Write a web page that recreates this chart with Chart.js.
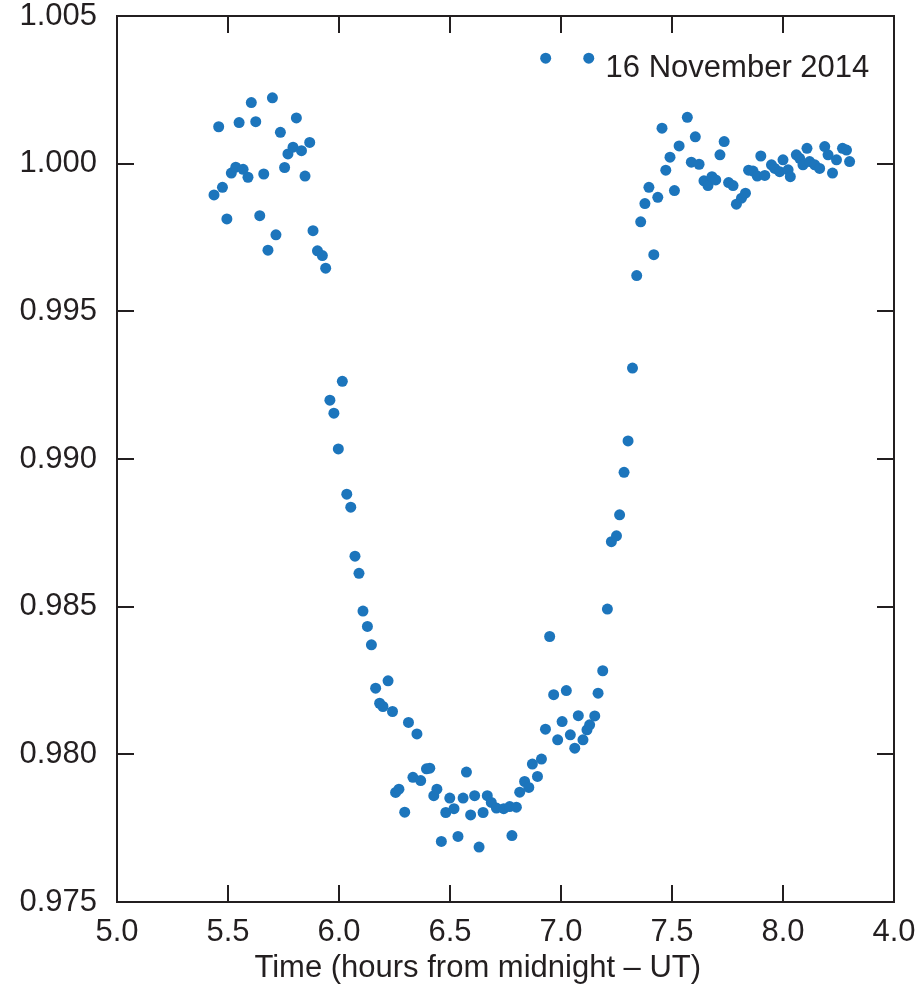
<!DOCTYPE html>
<html>
<head>
<meta charset="utf-8">
<script src="https://cdn.jsdelivr.net/npm/chart.js@4.4.1/dist/chart.umd.min.js"></script>
<style>
  html, body { margin: 0; padding: 0; background: #fff; }
  #wrap { width: 916px; height: 986px; }
</style>
</head>
<body>
<div id="wrap"><canvas id="lightCurve" width="916" height="986"></canvas></div>
<script>
// ---------------------------------------------
// Data
// ---------------------------------------------
const timeHours = [
    5.437, 5.458, 5.475, 5.495, 5.515, 5.535, 5.550, 5.568, 5.590, 5.605,
    5.625, 5.643, 5.661, 5.680, 5.700, 5.716, 5.736, 5.755, 5.770, 5.793,
    5.808, 5.831, 5.847, 5.868, 5.883, 5.903, 5.925, 5.940, 5.959, 5.977,
    5.997, 6.015, 6.035, 6.053, 6.072, 6.090, 6.108, 6.128, 6.146, 6.165,
    6.183, 6.198, 6.221, 6.241, 6.255, 6.270, 6.296, 6.313, 6.333, 6.351,
    6.368, 6.394, 6.409, 6.427, 6.441, 6.461, 6.481, 6.499, 6.518, 6.536,
    6.559, 6.574, 6.593, 6.611, 6.631, 6.649, 6.668, 6.686, 6.709, 6.742,
    6.769, 6.779, 6.799, 6.814, 6.836, 6.855, 6.871, 6.894, 6.912, 6.930,
    6.931, 6.949, 6.967, 6.985, 7.005, 7.024, 7.042, 7.062, 7.078, 7.099,
    7.117, 7.125, 7.129, 7.152, 7.167, 7.188, 7.209, 7.227, 7.250, 7.264,
    7.284, 7.302, 7.322, 7.341, 7.359, 7.378, 7.396, 7.418, 7.436, 7.455,
    7.472, 7.491, 7.511, 7.532, 7.569, 7.587, 7.605, 7.622, 7.644, 7.662,
    7.680, 7.697, 7.716, 7.735, 7.755, 7.775, 7.790, 7.813, 7.831, 7.845,
    7.865, 7.884, 7.900, 7.918, 7.948, 7.963, 7.985, 8.000, 8.023, 8.033,
    8.060, 8.075, 8.090, 8.108, 8.120, 8.143, 8.165, 8.188, 8.203, 8.223,
    8.241, 8.268, 8.286, 8.300
];

const relFlux = [
    0.99894, 1.00125, 0.99920, 0.99813, 0.99968, 0.99988, 1.00139, 0.99981, 0.99954, 1.00207,
    1.00142, 0.99824, 0.99965, 0.99707, 1.00223, 0.99759, 1.00106, 0.99987, 1.00033, 1.00056,
    1.00155, 1.00044, 0.99958, 1.00072, 0.99773, 0.99705, 0.99689, 0.99646, 0.99199, 0.99155,
    0.99034, 0.99263, 0.98881, 0.98837, 0.98671, 0.98613, 0.98485, 0.98433, 0.98371, 0.98224,
    0.98173, 0.98162, 0.98249, 0.98145, 0.97871, 0.97882, 0.97804, 0.98108, 0.97922, 0.98069,
    0.97911, 0.97951, 0.97953, 0.97860, 0.97882, 0.97705, 0.97803, 0.97852, 0.97816, 0.97722,
    0.97852, 0.97940, 0.97795, 0.97860, 0.97686, 0.97803, 0.97860, 0.97837, 0.97818, 0.97816,
    0.97823, 0.97725, 0.97821, 0.97872, 0.97908, 0.97888, 0.97967, 0.97925, 0.97984, 0.98085,
    1.00357, 0.98399, 0.98202, 0.98049, 0.98111, 0.98216, 0.98066, 0.98021, 0.98131, 0.98049,
    0.98083, 1.00357, 0.98100, 0.98130, 0.98207, 0.98283, 0.98492, 0.98720, 0.98740, 0.98811,
    0.98955, 0.99061, 0.99308, 0.99621, 0.99803, 0.99865, 0.99920, 0.99692, 0.99886, 1.00120,
    0.99978, 1.00022, 0.99909, 1.00060, 1.00157, 1.00005, 1.00091, 0.99998, 0.99942, 0.99926,
    0.99956, 0.99945, 1.00030, 1.00075, 0.99936, 0.99926, 0.99863, 0.99883, 0.99900, 0.99978,
    0.99975, 0.99958, 1.00026, 0.99960, 0.99996, 0.99984, 0.99973, 1.00013, 0.99979, 0.99956,
    1.00030, 1.00018, 0.99996, 1.00052, 1.00007, 0.99996, 0.99984, 1.00058, 1.00030, 0.99968,
    1.00013, 1.00052, 1.00046, 1.00007
];

const xTicks = [5.0, 5.5, 6.0, 6.5, 7.0, 7.5, 8.0, 8.5];
const xTickLabels = ['5.0', '5.5', '6.0', '6.5', '7.0', '7.5', '8.0', '4.0'];
const yTicks = [0.975, 0.980, 0.985, 0.990, 0.995, 1.000, 1.005];
const yTickLabels = ['0.975', '0.980', '0.985', '0.990', '0.995', '1.000', '1.005'];

const dateLabel = '16 November 2014';
const dateLabelAt = [7.201, 1.00324];
const xTitle = 'Time (hours from midnight \u2013 UT)';
const xTitleAtX = 6.625;

const INK = '#231f20';
const DOT = '#1c75bc';
const FONT = '"Liberation Sans", Arial, Helvetica, sans-serif';
const FONT_SIZE = 31;

// ---------------------------------------------
// Frame, inward ticks and text
// ---------------------------------------------
const framePlugin = {
    id: 'frameTicks',
    afterDraw(chart) {
        const { ctx, chartArea: a, scales: { x, y } } = chart;
        const tickLen = 17;
        ctx.save();
        ctx.strokeStyle = INK;
        ctx.lineWidth = 2;
        ctx.strokeRect(a.left, a.top, a.right - a.left, a.bottom - a.top);

        ctx.beginPath();
        xTicks.forEach(v => {
            const px = Math.round(x.getPixelForValue(v));
            ctx.moveTo(px, a.bottom); ctx.lineTo(px, a.bottom - tickLen);
            ctx.moveTo(px, a.top); ctx.lineTo(px, a.top + tickLen);
        });
        yTicks.forEach(v => {
            const py = Math.round(y.getPixelForValue(v));
            ctx.moveTo(a.left, py); ctx.lineTo(a.left + tickLen, py);
            ctx.moveTo(a.right, py); ctx.lineTo(a.right - tickLen, py);
        });
        ctx.stroke();

        ctx.fillStyle = INK;
        ctx.font = `${FONT_SIZE}px ${FONT}`;
        ctx.textAlign = 'left';
        ctx.textBaseline = 'middle';
        ctx.fillText(dateLabel, x.getPixelForValue(dateLabelAt[0]), y.getPixelForValue(dateLabelAt[1]));

        ctx.textAlign = 'center';
        ctx.fillText(xTitle, x.getPixelForValue(xTitleAtX), 968);
        ctx.restore();
    }
};

const points = timeHours.map((t, i) => ({ x: t, y: relFlux[i] }));

new Chart(document.getElementById('lightCurve'), {
    type: 'scatter',
    data: {
        datasets: [{
            data: points,
            backgroundColor: DOT,
            borderWidth: 0,
            pointRadius: 5.5,
            pointHoverRadius: 5.5
        }]
    },
    options: {
        responsive: false,
        animation: false,
        devicePixelRatio: 1,
        layout: { autoPadding: false, padding: { top: 16, right: 22, left: 0, bottom: 0 } },
        plugins: { legend: { display: false }, tooltip: { enabled: false } },
        scales: {
            x: {
                type: 'linear',
                min: 5.0,
                max: 8.5,
                afterBuildTicks: s => { s.ticks = xTicks.map(v => ({ value: v })); },
                afterFit: s => {
                    s.height = 84;
                    s.paddingLeft = 0; s.paddingRight = 0;
                    s.paddingTop = 0; s.paddingBottom = 0;
                },
                grid: { display: false, drawTicks: false },
                border: { display: false },
                ticks: {
                    padding: 12,
                    color: INK,
                    font: { family: FONT, size: FONT_SIZE },
                    maxRotation: 0,
                    callback: (v, i) => xTickLabels[i]
                }
            },
            y: {
                type: 'linear',
                min: 0.975,
                max: 1.005,
                afterBuildTicks: s => { s.ticks = yTicks.map(v => ({ value: v })); },
                afterFit: s => {
                    s.width = 117;
                    s.paddingLeft = 0; s.paddingRight = 0;
                    s.paddingTop = 0; s.paddingBottom = 0;
                },
                grid: { display: false, drawTicks: false },
                border: { display: false },
                ticks: {
                    padding: 20,
                    color: INK,
                    font: { family: FONT, size: FONT_SIZE },
                    callback: (v, i) => yTickLabels[i]
                }
            }
        }
    },
    plugins: [framePlugin]
});
</script>
</body>
</html>
